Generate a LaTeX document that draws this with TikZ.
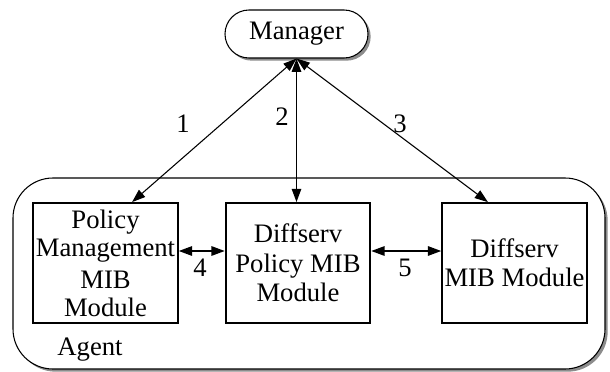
\documentclass[tikz,border=0pt]{standalone}
\usepackage{fontspec}
\setmainfont{Liberation Serif}
\usetikzlibrary{arrows.meta,shadows}
\begin{document}
\begin{tikzpicture}[x=0.75pt,y=-0.75pt,
  every node/.style={font=\fontsize{20}{21}\selectfont, inner sep=0pt},
  shade/.style={drop shadow={shadow xshift=2pt, shadow yshift=-2pt, fill=black!45, opacity=1}},
  module/.style={draw, line width=1.3pt, minimum width=108.5pt, minimum height=90pt, align=center},
  link/.style={line width=0.8pt, {Triangle[length=10pt,width=7pt]}-{Triangle[length=10pt,width=7pt]}},
  num/.style={}]
  \useasboundingbox (0,0) rectangle (610,371);

  % agent container
  \node[draw, line width=0.8pt, fill=white, rounded corners=30pt, shade,
        minimum width=444pt, minimum height=143.25pt] (agent) at (309,273.5) {};
  \node (agentlbl) at (90,350) {Agent};

  % manager
  \node[draw, line width=0.8pt, fill=white, rounded corners=18pt, shade,
        minimum width=107.25pt, minimum height=36pt] (man) at (296.5,34) {Manager};

  % modules
  \node[module] (b1) at (105.5,263) {\raisebox{-2pt}{\parbox{108pt}{\centering Policy\\Management\\[3pt]MIB\\Module}}};
  \node[module] (b2) at (298,263) {\raisebox{-6pt}{\parbox{108pt}{\centering Diffserv\\[1pt]Policy MIB\\[1pt]Module}}};
  \node[module] (b3) at (514.5,263) {\raisebox{3pt}{\parbox{108pt}{\centering Diffserv\\[1pt]MIB Module}}};

  % manager links
  \draw[link] (man.south) -- ([xshift=19.9pt]b1.north);
  \draw[link, line width=1.4pt] (man.south) -- (man.south |- b2.north);
  \draw[link] (man.south) -- ([xshift=-19.9pt]b3.north);

  % links between modules
  \draw[link, line width=1.3pt] ([yshift=9pt]b1.east) -- ([yshift=9pt]b2.west);
  \draw[link, line width=1.3pt] ([yshift=9pt]b2.east) -- ([yshift=9pt]b3.west);

  % labels
  \node[num] (n1) at (183,124) {1};
  \node[num] (n2) at (282,117) {2};
  \node[num] (n3) at (400,124) {3};
  \node[num] (n4) at (200,268) {4};
  \node[num] (n5) at (405,268) {5};
\end{tikzpicture}
\end{document}
